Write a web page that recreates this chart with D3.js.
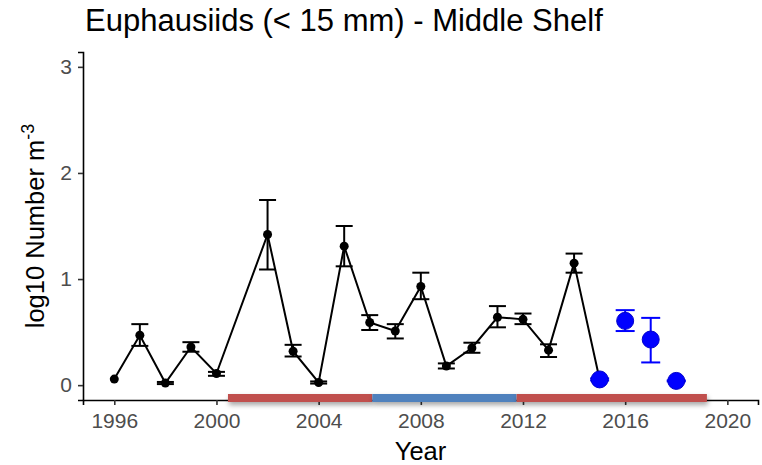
<!DOCTYPE html>
<html>
<head>
<meta charset="utf-8">
<script src="https://cdn.jsdelivr.net/npm/d3@7"></script>
<style>
  body { margin: 0; background: #fff; }
  text { font-family: Arial, "Liberation Sans", sans-serif; }
</style>
</head>
<body>
<svg id="chart" width="762" height="465"></svg>
<script>
// survey series (black)
let years = [1996, 1997, 1998, 1999, 2000, 2002, 2003, 2004, 2005, 2006, 2007, 2008, 2009, 2010, 2011, 2012, 2013, 2014, 2015];
let values = [0.057, 0.47, 0.02, 0.36, 0.11, 1.42, 0.32, 0.025, 1.31, 0.59, 0.51, 0.93, 0.18, 0.35, 0.64, 0.62, 0.33, 1.15, 0.054];
let lower = [null, 0.37, 0.01, 0.315, 0.088, 1.09, 0.27, 0.015, 1.12, 0.52, 0.44, 0.81, 0.157, 0.305, 0.545, 0.575, 0.265, 1.06, 0.044];
let upper = [null, 0.575, 0.03, 0.405, 0.125, 1.745, 0.38, 0.035, 1.50, 0.66, 0.575, 1.06, 0.205, 0.40, 0.745, 0.675, 0.385, 1.24, 0.064];

// recent years (blue)
let yearsB = [2015, 2016, 2017, 2018];
let valuesB = [0.054, 0.606, 0.43, 0.04];
let lowerB = [0.044, 0.51, 0.214, 0.035];
let upperB = [0.064, 0.707, 0.634, 0.045];

// warm / cold periods along the axis
let periodStart = [2000.45, 2006.1, 2011.75];
let periodEnd = [2006.1, 2011.75, 2019.2];
let periodType = ["warm", "cold", "warm"];

let xTicks = [1996, 2000, 2004, 2008, 2012, 2016, 2020];
let yTicks = [0, 1, 2, 3];

let svg = d3.select("#chart");

let x = d3.scaleLinear().domain([1994.775, 2021.2]).range([83, 758]);
let y = d3.scaleLinear().domain([-0.14, 3.14]).range([400, 52]);
let periodColor = d3.scaleOrdinal().domain(["warm", "cold"]).range(["#c0504d", "#4f81bd"]);

let defs = svg.append("defs");
let f = defs.append("filter").attr("id", "shadow")
	.attr("x", "-5%").attr("y", "-50%").attr("width", "110%").attr("height", "250%");
f.append("feDropShadow")
	.attr("dx", 1).attr("dy", 3)
	.attr("stdDeviation", 2.5)
	.attr("flood-color", "#000")
	.attr("flood-opacity", 0.35);

// axes
let xAxis = svg.append("g")
	.attr("transform", "translate(0," + y.range()[0] + ")")
	.call(d3.axisBottom(x).tickValues(xTicks).tickFormat(d3.format("d")).tickSize(5).tickPadding(8.5));
let yAxis = svg.append("g")
	.attr("transform", "translate(" + x.range()[0] + ",0)")
	.call(d3.axisLeft(y).tickValues(yTicks).tickFormat(d3.format("d")).tickSize(5).tickPadding(6));

[xAxis, yAxis].forEach(function(a) {
	a.select(".domain").attr("stroke", "#000").attr("stroke-width", 1.6);
	a.selectAll(".tick line").attr("stroke", "#333").attr("stroke-width", 1.6);
	a.selectAll(".tick text")
		.attr("fill", "#4d4d4d")
		.attr("font-size", "21px")
		.attr("font-family", "Arial, 'Liberation Sans', sans-serif");
});

// period bars
svg.append("g").selectAll("rect")
	.data(periodType).enter()
	.append("rect")
	.attr("x", (d, i) => x(periodStart[i]))
	.attr("width", (d, i) => x(periodEnd[i]) - x(periodStart[i]))
	.attr("y", y.range()[0] - 6)
	.attr("height", 8)
	.attr("fill", d => periodColor(d))
	.attr("filter", "url(#shadow)");

// black series
let pts = years.map((d, i) => ({ year: d, v: values[i], lo: lower[i], hi: upper[i] }));
let line = d3.line().x(d => x(d.year)).y(d => y(d.v));

svg.append("path")
	.datum(pts)
	.attr("d", line)
	.attr("fill", "none")
	.attr("stroke", "#000")
	.attr("stroke-width", 2);

function errorBars(data, colour, cap) {
	let g = svg.append("g").attr("stroke", colour).attr("stroke-width", 2).attr("fill", "none");
	let e = g.selectAll("g").data(data.filter(d => d.lo != null)).enter().append("g");
	e.append("line")
		.attr("x1", d => x(d.year)).attr("x2", d => x(d.year))
		.attr("y1", d => y(d.lo)).attr("y2", d => y(d.hi));
	e.append("line")
		.attr("x1", d => x(d.year) - cap).attr("x2", d => x(d.year) + cap)
		.attr("y1", d => y(d.hi)).attr("y2", d => y(d.hi));
	e.append("line")
		.attr("x1", d => x(d.year) - cap).attr("x2", d => x(d.year) + cap)
		.attr("y1", d => y(d.lo)).attr("y2", d => y(d.lo));
}

errorBars(pts, "#000", 8.5);

svg.append("g").selectAll("circle")
	.data(pts).enter()
	.append("circle")
	.attr("cx", d => x(d.year))
	.attr("cy", d => y(d.v))
	.attr("r", 4.5)
	.attr("fill", "#000");

// blue series
let ptsB = yearsB.map((d, i) => ({ year: d, v: valuesB[i], lo: lowerB[i], hi: upperB[i] }));
errorBars(ptsB, "#0000ff", 9.5);

svg.append("g").selectAll("circle")
	.data(ptsB).enter()
	.append("circle")
	.attr("cx", d => x(d.year))
	.attr("cy", d => y(d.v))
	.attr("r", 8.5)
	.attr("fill", "#0000ff")
	.attr("stroke", "#0000cc")
	.attr("stroke-width", 1);

// labels
svg.append("text")
	.attr("x", 85)
	.attr("y", 31)
	.attr("font-size", "31px")
	.attr("fill", "#000")
	.text("Euphausiids (< 15 mm) - Middle Shelf");

svg.append("text")
	.attr("x", (x.range()[0] + x.range()[1]) / 2)
	.attr("y", 460)
	.attr("text-anchor", "middle")
	.attr("font-size", "25.5px")
	.attr("fill", "#000")
	.text("Year");

let yl = svg.append("text")
	.attr("transform", "translate(44," + ((y.range()[0] + y.range()[1]) / 2) + ") rotate(-90)")
	.attr("text-anchor", "middle")
	.attr("font-size", "25.5px")
	.attr("fill", "#000");
yl.append("tspan").text("log10 Number m");
yl.append("tspan").attr("font-size", "18px").attr("dy", "-10").text("-3");
</script>
</body>
</html>
